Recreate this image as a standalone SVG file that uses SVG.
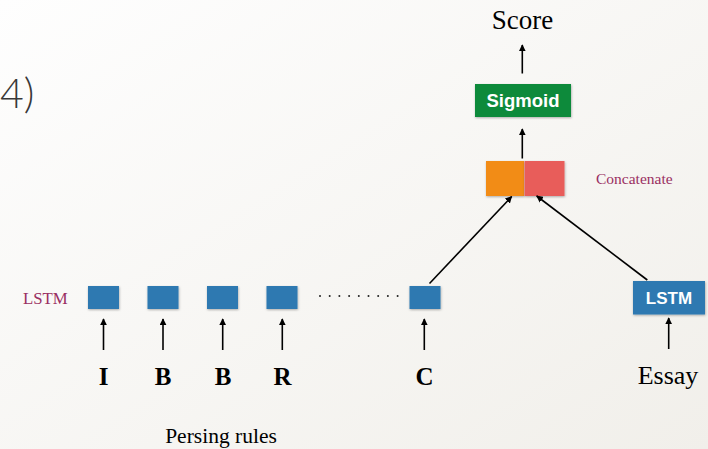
<svg xmlns="http://www.w3.org/2000/svg" width="708" height="449" viewBox="0 0 708 449">
<defs>
<linearGradient id="bg" x1="0" y1="0" x2="1" y2="1">
<stop offset="0" stop-color="#fefefe"/>
<stop offset="1" stop-color="#f1efea"/>
</linearGradient>
<filter id="sh" x="-20%" y="-20%" width="140%" height="140%">
<feDropShadow dx="0.5" dy="1" stdDeviation="0.8" flood-color="#000" flood-opacity="0.3"/>
</filter>
<marker id="ah" viewBox="0 0 10 10" refX="9" refY="5" markerWidth="7" markerHeight="7" markerUnits="userSpaceOnUse" orient="auto">
<path d="M0,0 L10,5 L0,10 z" fill="#000"/>
</marker>
</defs>
<style>
.blue{fill:#2f79b1;filter:url(#sh)}
.con{stroke:#000;stroke-width:1.6;fill:none;marker-end:url(#ah)}
.tok{font-family:"Liberation Serif",serif;font-weight:bold;font-size:25px;fill:#000;text-anchor:middle}
.ser{font-family:"Liberation Serif",serif;fill:#000}
.lab{font-family:"Liberation Serif",serif;fill:#9a2f62}
.wt{font-family:"Liberation Sans",Arial,sans-serif;font-weight:bold;fill:#fff;text-anchor:middle}
</style>
<rect width="708" height="449" fill="url(#bg)"/>
<text x="0" y="108" font-family="Lato, 'Open Sans', sans-serif" font-weight="300" font-size="41" fill="#383838">4)</text>

<g id="score"><text class="ser" x="522.5" y="28.5" font-size="27" text-anchor="middle">Score</text></g>
<g id="sigmoid"><rect x="475" y="84" width="96" height="33" fill="#0b8a3b" filter="url(#sh)"/><text class="wt" x="523" y="107" font-size="18.5">Sigmoid</text></g>
<g id="concat"><rect x="486" y="161" width="38" height="35" fill="#f28c14" filter="url(#sh)"/><rect x="524.5" y="161" width="40" height="35" fill="#e85d5a" filter="url(#sh)"/><text class="lab" x="596" y="184" font-size="15.5">Concatenate</text></g>
<g id="lstm-label"><text class="lab" x="23" y="304" font-size="16.8">LSTM</text></g>
<g id="n1"><rect class="blue" x="88" y="286" width="31" height="23"/></g>
<g id="n2"><rect class="blue" x="147.5" y="286" width="31" height="23"/></g>
<g id="n3"><rect class="blue" x="207" y="286" width="31" height="23"/></g>
<g id="n4"><rect class="blue" x="266.5" y="286" width="31" height="23"/></g>
<g id="dots" fill="#222"><circle cx="320" cy="296" r="1"/><circle cx="329.7" cy="296" r="1"/><circle cx="339.4" cy="296" r="1"/><circle cx="349.1" cy="296" r="1"/><circle cx="358.8" cy="296" r="1"/><circle cx="368.5" cy="296" r="1"/><circle cx="378.2" cy="296" r="1"/><circle cx="387.9" cy="296" r="1"/><circle cx="397.6" cy="296" r="1"/></g>
<g id="n5"><rect class="blue" x="409.5" y="286" width="31" height="23"/></g>
<g id="lstm-essay"><rect class="blue" x="633" y="281" width="72" height="33.5"/><text class="wt" x="669" y="304" font-size="17">LSTM</text></g>
<g id="tokens">
<text class="tok" x="103.5" y="385">I</text>
<text class="tok" x="163" y="385">B</text>
<text class="tok" x="223" y="385">B</text>
<text class="tok" x="282.5" y="385">R</text>
<text class="tok" x="424.5" y="385">C</text>
<text class="ser" x="668" y="384" font-size="26" text-anchor="middle">Essay</text>
<text class="ser" x="221" y="443" font-size="21.5" text-anchor="middle">Persing rules</text>
</g>
<g id="connectors">
<line class="con" x1="103.5" y1="350" x2="103.5" y2="319"/>
<line class="con" x1="163" y1="350" x2="163" y2="319"/>
<line class="con" x1="222.7" y1="350" x2="222.7" y2="319"/>
<line class="con" x1="282.3" y1="350" x2="282.3" y2="319"/>
<line class="con" x1="424.3" y1="350" x2="424.3" y2="319"/>
<line class="con" x1="668.7" y1="349" x2="668.7" y2="318"/>
<line class="con" x1="429.5" y1="283.5" x2="511.7" y2="196.5"/>
<line class="con" x1="647.3" y1="280" x2="536.7" y2="196"/>
<line class="con" x1="522.3" y1="158.5" x2="522.3" y2="129"/>
<line class="con" x1="522.3" y1="73.5" x2="522.3" y2="45"/>
</g>
</svg>
